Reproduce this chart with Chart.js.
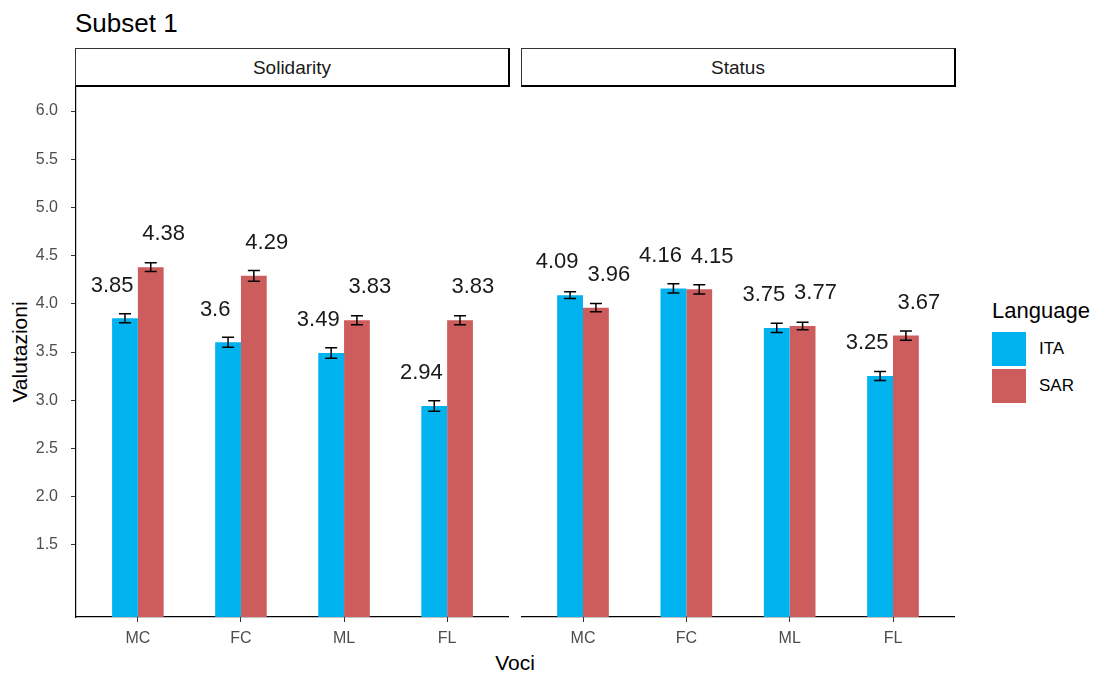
<!DOCTYPE html>
<html>
<head>
<meta charset="utf-8">
<script src="https://cdn.jsdelivr.net/npm/chart.js@4/dist/chart.umd.min.js"></script>
<style>
  html, body { margin: 0; padding: 0; background: #fff; }
  body { width: 1096px; height: 678px; position: relative; overflow: hidden; font-family: "Liberation Sans", Arial, sans-serif; }
  .abs { position: absolute; }
  #title { left: 75px; top: 8px; font-size: 26px; line-height: 30px; color: #000; }
  .strip { top: 48px; height: 39px; box-sizing: border-box; border: 1px solid #333; border-right: 2px solid #000; border-bottom: 2px solid #000; background: #fff; font-size: 19px; color: #1a1a1a; text-align: center; line-height: 37px; }
  #ytitle { left: 20px; top: 352px; transform: translate(-50%, -50%) rotate(-90deg); font-size: 21px; color: #000; white-space: nowrap; }
  #xtitle { left: 515px; top: 663px; transform: translate(-50%, -50%); font-size: 21px; color: #000; }
  #legend-title { left: 992px; top: 298px; font-size: 22px; line-height: 26px; color: #000; }
  .key { left: 992px; width: 34px; height: 34px; }
  .key-label { left: 1039px; font-size: 17px; line-height: 20px; color: #000; }
</style>
</head>
<body>
<div id="title" class="abs">Subset 1</div>
<div id="strip1" class="abs strip"></div>
<div id="strip2" class="abs strip"></div>
<div id="ytitle" class="abs">Valutazioni</div>
<div id="xtitle" class="abs">Voci</div>
<div id="legend-title" class="abs">Language</div>
<div id="key1" class="abs key"></div>
<div id="key2" class="abs key"></div>
<div id="keylabel1" class="abs key-label"></div>
<div id="keylabel2" class="abs key-label"></div>
<canvas id="panel1" class="abs" width="509" height="591" style="left:0px;top:87px;"></canvas>
<canvas id="panel2" class="abs" width="434" height="591" style="left:521px;top:87px;"></canvas>

<script>
// Categories, facets and series
const categories = ['MC', 'FC', 'ML', 'FL'];
const facets = ['Solidarity', 'Status'];
const languages = ['ITA', 'SAR'];

const solidarityITA = [3.85, 3.6, 3.49, 2.94];
const solidaritySAR = [4.38, 4.29, 3.83, 3.83];
const statusITA = [4.09, 4.16, 3.75, 3.25];
const statusSAR = [3.96, 4.15, 3.77, 3.67];

// Standard errors for the error bars
const solidarityITAErr = [0.047, 0.052, 0.055, 0.055];
const solidaritySARErr = [0.045, 0.055, 0.047, 0.047];
const statusITAErr = [0.035, 0.048, 0.048, 0.047];
const statusSARErr = [0.043, 0.047, 0.038, 0.048];

// Y axis tick labels
const yTicks = [1.5, 2.0, 2.5, 3.0, 3.5, 4.0, 4.5, 5.0, 5.5, 6.0];

const colors = { ITA: '#00B2EE', SAR: '#CD5C5C' };
const FONT = '"Liberation Sans", Arial, sans-serif';
const XAXIS_H = 61;

// Static text pieces
document.getElementById('strip1').textContent = facets[0];
document.getElementById('strip2').textContent = facets[1];
const s1 = document.getElementById('strip1'); s1.style.left = '75px'; s1.style.width = '435px';
const s2 = document.getElementById('strip2'); s2.style.left = '521px'; s2.style.width = '435px';
document.getElementById('key1').style.cssText += ';top:332px;background:' + colors.ITA;
document.getElementById('key2').style.cssText += ';top:369px;background:' + colors.SAR;
const kl1 = document.getElementById('keylabel1'); kl1.textContent = languages[0]; kl1.style.top = '339px';
const kl2 = document.getElementById('keylabel2'); kl2.textContent = languages[1]; kl2.style.top = '376px';

// Error bars and value labels drawn on top of the bars
const barDecor = {
  id: 'barDecor',
  afterDatasetsDraw(chart) {
    const ctx = chart.ctx;
    const xs = chart.scales.x, ys = chart.scales.y;
    ctx.save();
    chart.data.datasets.forEach((ds, di) => {
      const meta = chart.getDatasetMeta(di);
      meta.data.forEach((bar, i) => {
        const v = ds.data[i].y;
        const e = ds.errors[i];
        const yTop = ys.getPixelForValue(v + e);
        const yBot = ys.getPixelForValue(v - e);
        const cx = bar.x;
        ctx.strokeStyle = '#000';
        ctx.lineWidth = 1.5;
        ctx.beginPath();
        ctx.moveTo(cx, yTop); ctx.lineTo(cx, yBot);
        ctx.moveTo(cx - 6, yTop); ctx.lineTo(cx + 6, yTop);
        ctx.moveTo(cx - 6, yBot); ctx.lineTo(cx + 6, yBot);
        ctx.stroke();
        // value label, dodged by a quarter category
        const lx = xs.getPixelForValue(ds.data[i].x + (di === 0 ? -0.25 : 0.25));
        const ly = ys.getPixelForValue(v + 0.34);
        ctx.fillStyle = '#1a1a1a';
        ctx.font = '22px ' + FONT;
        ctx.textAlign = 'center';
        ctx.textBaseline = 'middle';
        ctx.fillText(String(v), lx, ly);
      });
    });
    ctx.restore();
  }
};

function makeDataset(label, values, errs) {
  return {
    label: label,
    data: values.map((v, i) => ({ x: i + 1, y: v })),
    errors: errs,
    backgroundColor: colors[label],
    borderWidth: 0,
    categoryPercentage: 0.5,
    barPercentage: 1.0
  };
}

function makePanel(canvasId, ita, itaErr, sar, sarErr, showY) {
  const axisGrid = { display: true, drawOnChartArea: false, drawTicks: true, tickLength: 5, color: '#333', lineWidth: 1, offset: false };
  return new Chart(document.getElementById(canvasId), {
    type: 'bar',
    data: { datasets: [makeDataset('ITA', ita, itaErr), makeDataset('SAR', sar, sarErr)] },
    options: {
      responsive: false,
      animation: false,
      layout: { padding: 0 },
      plugins: { legend: { display: false }, tooltip: { enabled: false }, title: { display: false } },
      scales: {
        x: {
          type: 'linear',
          offset: false,
          min: 0.4,
          max: 4.6,
          afterBuildTicks: s => { s.ticks = categories.map((c, i) => ({ value: i + 1 })); },
          afterFit: s => { s.height = XAXIS_H; s.paddingLeft = 0; s.paddingRight = 0; },
          ticks: {
            callback: v => categories[Math.round(v) - 1],
            font: { family: FONT, size: 16 },
            color: '#4d4d4d',
            padding: 7,
            autoSkip: false,
            maxRotation: 0
          },
          grid: axisGrid,
          border: { display: true, color: '#000', width: 1.2 }
        },
        y: {
          display: showY,
          min: 0.75,
          max: 6.25,
          afterBuildTicks: s => { s.ticks = yTicks.map(v => ({ value: v })); },
          afterFit: s => { s.width = showY ? 76 : 0; s.paddingTop = 0; s.paddingBottom = 0; },
          ticks: {
            callback: v => v.toFixed(1),
            font: { family: FONT, size: 16 },
            color: '#4d4d4d',
            padding: 13
          },
          grid: axisGrid,
          border: { display: true, color: '#000', width: 1.2 }
        }
      }
    },
    plugins: [barDecor]
  });
}

makePanel('panel1', solidarityITA, solidarityITAErr, solidaritySAR, solidaritySARErr, true);
makePanel('panel2', statusITA, statusITAErr, statusSAR, statusSARErr, false);
</script>
</body>
</html>
